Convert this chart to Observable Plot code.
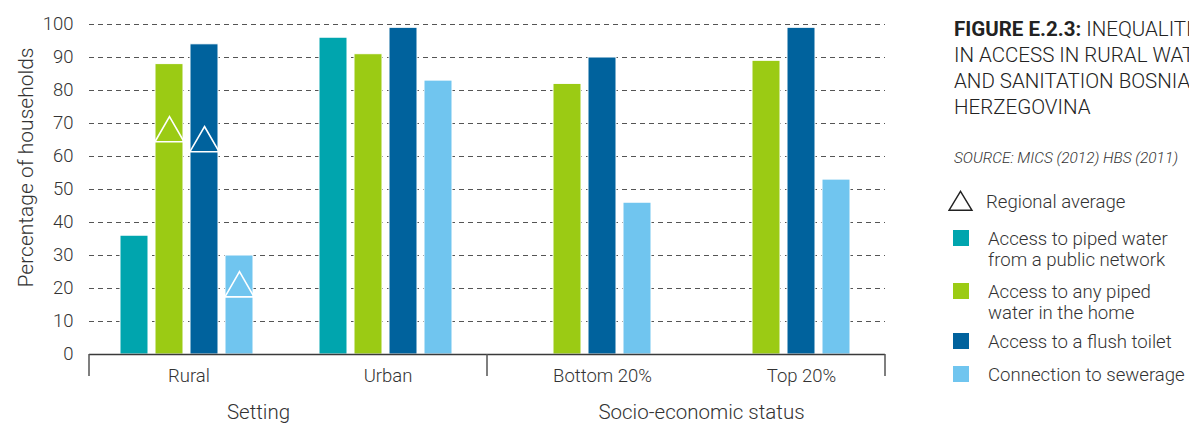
<!DOCTYPE html>
<html><head><meta charset="utf-8">
<script src="https://cdn.jsdelivr.net/npm/d3@7"></script>
<script src="https://cdn.jsdelivr.net/npm/@observablehq/plot@0.6"></script>
<style>
html,body{margin:0;padding:0;background:#fff;overflow:hidden;width:1189px;height:423px;}
body{font-family:Roboto,"Noto Sans",sans-serif;font-weight:300;position:relative;color:#222;}
#chart{position:absolute;left:0;top:0;}
#side{position:absolute;left:954px;top:0;white-space:nowrap;}
#title{position:absolute;left:0;top:16px;font-size:20.5px;line-height:26px;text-transform:uppercase;color:#222;}
#title b{font-weight:700;}
#source{position:absolute;left:0;top:149px;font-size:15.4px;font-style:italic;color:#333;}
.item{position:absolute;left:0;font-size:18.6px;line-height:21.5px;color:#333;}
.sw{position:absolute;left:-1px;top:0;width:16px;height:16px;}
.lab{position:absolute;left:34px;top:-1.5px;}
</style></head><body>
<div id="chart"></div>
<div id="side">
  <div id="title"><b>FIGURE E.2.3:</b> INEQUALITIES<br>IN ACCESS IN RURAL WATER<br>AND SANITATION BOSNIA AND<br>HERZEGOVINA</div>
  <div id="source">SOURCE: MICS (2012) HBS (2011)</div>
  <div id="legend"></div>
</div>
<script>
// ---- data ----
const groups = ["Rural", "Urban", "Bottom 20%", "Top 20%"];
const groupSuper = ["Setting", "Setting", "Socio-economic status", "Socio-economic status"];
const superGroups = ["Setting", "Socio-economic status"];
const series = [
  "Access to piped water from a public network",
  "Access to any piped water in the home",
  "Access to a flush toilet",
  "Connection to sewerage"
];
const legendLines = [
  ["Access to piped water", "from a public network"],
  ["Access to any piped", "water in the home"],
  ["Access to a flush toilet"],
  ["Connection to sewerage"]
];
const seriesColors = ["#00a5ae", "#9bcb14", "#00629d", "#70c5ef"];
const pipedPublic = [36, 96, null, null];
const pipedHome = [88, 91, 82, 89];
const flushToilet = [94, 99, 90, 99];
const sewerage = [30, 83, 46, 53];
const regionalGroup = ["Rural", "Rural", "Rural"];
const regionalSeries = ["Access to any piped water in the home", "Access to a flush toilet", "Connection to sewerage"];
const regionalAvg = [67, 64, 20];
const yTicks = [0, 10, 20, 30, 40, 50, 60, 70, 80, 90, 100];
const yLabel = "Percentage of households";
const triangleLabel = "Regional average";

// ---- tables ----
const valuesBySeries = [pipedPublic, pipedHome, flushToilet, sewerage];
const table = [];
groups.forEach((g, gi) => series.forEach((s, si) => {
  const v = valuesBySeries[si][gi];
  if (v != null) table.push({group: g, series: s, value: v});
}));
const regional = regionalAvg.map((v, i) => ({group: regionalGroup[i], series: regionalSeries[i], value: v}));
// group labels sit centred under the bars that are present
const fullGroups = groups.filter((g, gi) => valuesBySeries.every(a => a[gi] != null));
const partialGroups = groups.filter(g => !fullGroups.includes(g));

const font = "Roboto, 'Noto Sans', sans-serif";
const labelStyle = {fill: "#333", textAnchor: "middle", lineAnchor: "middle"};
const chart = Plot.plot({
  width: 1189,
  height: 423,
  marginLeft: 88,
  marginRight: 303,
  marginTop: 24,
  marginBottom: 69,
  style: {fontFamily: font, fontWeight: 300, color: "#333", background: "transparent"},
  fx: {domain: groups, paddingInner: 0, paddingOuter: 0, label: null, axis: null},
  x: {domain: series, paddingInner: 0.194, paddingOuter: 0.868, align: 0.47, axis: null},
  y: {domain: [0, 100], label: null},
  color: {domain: series, range: seriesColors},
  marks: [
    Plot.gridY(yTicks.slice(1), {stroke: "#555", strokeOpacity: 1, strokeWidth: 1, strokeDasharray: "5,4"}),
    Plot.barY(table, {fx: "group", x: "series", y: "value", fill: "series", stroke: "white", strokeWidth: 1}),
    Plot.dot(regional, {fx: "group", x: "series", y: "value", symbol: "triangle", r: 10.8, fill: "none", stroke: "white", strokeWidth: 1.6}),
    Plot.ruleY([0], {stroke: "#3a3a3a", strokeWidth: 1.4}),
    Plot.axisY({ticks: yTicks, tickSize: 0, tickPadding: 16, fontSize: 18.5, label: null}),
    Plot.text(fullGroups, {fx: d => d, text: d => d, frameAnchor: "bottom", dy: 22, fontSize: 18.5, ...labelStyle}),
    Plot.text(partialGroups, {fx: d => d, text: d => d, x: () => series[2], frameAnchor: "bottom", dy: 22, fontSize: 18.5, ...labelStyle}),
    Plot.text([yLabel], {fx: () => groups[0], frameAnchor: "left", rotate: -90, dx: -63, dy: -22, fontSize: 21, ...labelStyle}),
    Plot.text([superGroups[0]], {fx: () => groups[0], frameAnchor: "bottom-right", dx: -30, dy: 58, fontSize: 20.5, ...labelStyle}),
    Plot.text([superGroups[1]], {fx: () => groups[2], frameAnchor: "bottom-right", dx: 15, dy: 58, fontSize: 20.5, ...labelStyle})
  ]
});
document.getElementById("chart").appendChild(chart);

// group separator ticks, positioned with the plot's own fx and y scales
const fxs = chart.scale("fx"), ys = chart.scale("y");
const edges = [];
groups.forEach((g, i) => { if (i === 0 || groupSuper[i] !== groupSuper[i - 1]) edges.push(fxs.apply(g)); });
edges.push(fxs.apply(groups[groups.length - 1]) + fxs.bandwidth);
const y0 = ys.apply(0);
d3.select(chart).append("g").selectAll("line").data(edges).join("line")
  .attr("x1", d => d).attr("x2", d => d)
  .attr("y1", y0).attr("y2", y0 + 22)
  .attr("stroke", "#555").attr("stroke-width", 1.5);

// legend
const legend = d3.select("#legend");
const tops = [193, 230, 283, 333, 366];
const tri = legend.append("div").attr("class", "item").style("top", tops[0] + "px");
tri.append("svg").attr("width", 26).attr("height", 22).style("position", "absolute").style("left", "-6px").style("top", "-3px")
  .append("polygon").attr("points", "1,20.3 12.5,1.3 24,20.3").attr("fill", "none").attr("stroke", "#222").attr("stroke-width", 1.4);
tri.append("div").attr("class", "lab").style("left", "32px").text(triangleLabel);
series.forEach((s, i) => {
  const it = legend.append("div").attr("class", "item").style("top", tops[i + 1] + "px");
  it.append("div").attr("class", "sw").style("background", seriesColors[i]);
  const lab = it.append("div").attr("class", "lab");
  legendLines[i].forEach((l, j) => { if (j) lab.append("br"); lab.append("span").text(l); });
});
</script>
</body></html>
